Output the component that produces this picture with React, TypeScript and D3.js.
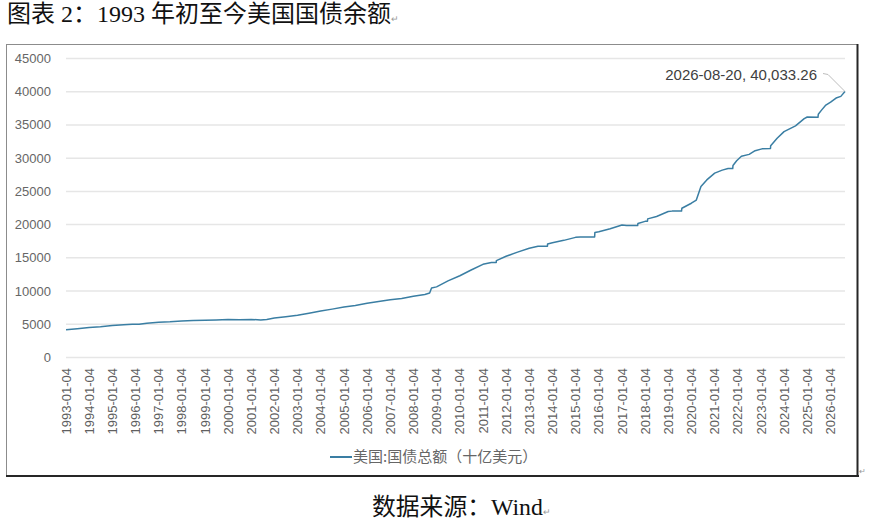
import * as d3 from 'd3'

// 美国国债总额（十亿美元），读自原图
const dates = [
  '1993-01-04', '1993-07-01', '1994-01-03', '1994-07-01', '1995-01-03', '1995-07-03',
  '1995-11-15', '1996-03-01', '1996-07-01', '1997-01-02', '1997-07-01', '1998-01-02',
  '1998-07-01', '1999-01-04', '1999-07-01', '2000-01-03', '2000-07-03', '2001-01-02',
  '2001-06-01', '2001-09-04', '2002-01-02', '2002-07-01', '2003-01-02', '2003-07-01',
  '2004-01-02', '2004-07-01', '2005-01-03', '2005-07-01', '2006-01-03', '2006-07-03',
  '2007-01-02', '2007-07-02', '2008-01-02', '2008-07-01', '2008-09-15', '2008-10-15',
  '2009-01-02', '2009-07-01', '2010-01-04', '2010-07-01', '2011-01-03', '2011-05-16',
  '2011-08-01', '2011-08-03', '2012-01-03', '2012-07-02', '2013-01-02', '2013-05-20',
  '2013-10-16', '2013-10-18', '2014-01-02', '2014-07-01', '2015-01-02', '2015-03-16',
  '2015-10-30', '2015-11-03', '2016-01-04', '2016-07-01', '2017-01-03', '2017-03-16',
  '2017-09-07', '2017-09-11', '2018-01-02', '2018-02-09', '2018-02-12', '2018-07-02',
  '2019-01-02', '2019-03-04', '2019-07-31', '2019-08-05', '2020-01-02', '2020-03-20',
  '2020-06-01', '2020-09-01', '2021-01-04', '2021-05-03', '2021-08-02', '2021-10-15',
  '2021-10-19', '2021-12-16', '2022-03-01', '2022-07-01', '2022-10-03', '2023-01-19',
  '2023-06-02', '2023-06-05', '2023-09-15', '2024-01-02', '2024-07-01', '2024-11-15',
  '2025-01-02', '2025-06-20', '2025-06-25', '2025-08-15', '2025-10-22', '2026-01-05',
  '2026-04-01', '2026-06-15', '2026-08-20'
]
const debt = [
  4170, 4330, 4520, 4630, 4800, 4930,
  4990, 4990, 5160, 5310, 5370, 5500,
  5550, 5610, 5640, 5710, 5690, 5730,
  5630, 5730, 5930, 6130, 6370, 6670,
  7000, 7280, 7590, 7840, 8170, 8420,
  8680, 8870, 9230, 9490, 9700, 10450,
  10630, 11530, 12310, 13170, 14020, 14290,
  14290, 14580, 15230, 15860, 16430, 16740,
  16740, 17080, 17260, 17630, 18080, 18150,
  18150, 18830, 18920, 19380, 19950, 19850,
  19850, 20160, 20490, 20500, 20860, 21220,
  21970, 22030, 22030, 22460, 23220, 23690,
  25740, 26730, 27750, 28200, 28430, 28430,
  28900, 29600, 30290, 30570, 31120, 31400,
  31460, 31860, 33000, 34000, 34850, 35950,
  36200, 36150, 36600, 37230, 38000, 38450,
  39050, 39300, 40033.26
]
const yTicks = [0, 5000, 10000, 15000, 20000, 25000, 30000, 35000, 40000, 45000]
const xTickLabels = [
  '1993-01-04', '1994-01-04', '1995-01-04', '1996-01-04', '1997-01-04', '1998-01-04',
  '1999-01-04', '2000-01-04', '2001-01-04', '2002-01-04', '2003-01-04', '2004-01-04',
  '2005-01-04', '2006-01-04', '2007-01-04', '2008-01-04', '2009-01-04', '2010-01-04',
  '2011-01-04', '2012-01-04', '2013-01-04', '2014-01-04', '2015-01-04', '2016-01-04',
  '2017-01-04', '2018-01-04', '2019-01-04', '2020-01-04', '2021-01-04', '2022-01-04',
  '2023-01-04', '2024-01-04', '2025-01-04', '2026-01-04'
]
const seriesName = '美国:国债总额（十亿美元）'

const parse = d3.timeParse('%Y-%m-%d')
const lineColor = '#3a7ea3'
const axisFont = '"Liberation Sans", Arial, sans-serif'
const cjkSerif = '"Liberation Serif", "Noto Sans CJK SC", serif'

export default function App() {
  const data = dates.map((d, i) => ({ date: parse(d) as Date, value: debt[i] }))
  const last = data[data.length - 1]

  const x = d3.scaleTime()
    .domain([data[0].date, last.date])
    .range([66, 845])
  const y = d3.scaleLinear()
    .domain([0, 45000])
    .range([357.5, 58.5])

  const line = d3.line<{ date: Date; value: number }>()
    .x(d => x(d.date))
    .y(d => y(d.value))

  const lx = x(last.date)
  const ly = y(last.value)
  const label = `${d3.timeFormat('%Y-%m-%d')(last.date)}, ${d3.format(',.2f')(last.value)}`

  return (
    <svg width={870} height={524} style={{ position: 'absolute', left: 0, top: 0, background: '#fff' }}>
      {/* 标题 */}
      <text x={7} y={22} fontFamily={cjkSerif} fontSize={24} fill="#111">
        图表 2：1993 年初至今美国国债余额
        <tspan fontSize={9} fill="#999" fontFamily={axisFont}>↵</tspan>
      </text>

      {/* 外框 */}
      <line x1={7} x2={858} y1={44.5} y2={44.5} stroke="#8c8c8c" strokeWidth={1} />
      <line x1={6.5} x2={6.5} y1={44} y2={477} stroke="#8c8c8c" strokeWidth={1} />
      <line x1={6} x2={859} y1={476} y2={476} stroke="#262626" strokeWidth={2} />
      <line x1={857.5} x2={857.5} y1={44} y2={477} stroke="#262626" strokeWidth={2} />
      <text x={859} y={474} fontSize={8} fill="#999" fontFamily={axisFont}>↵</text>

      {/* 网格线与纵轴 */}
      {yTicks.map(t => (
        <g key={t}>
          <line x1={66} x2={845} y1={y(t)} y2={y(t)} stroke="#e6e6e6" strokeWidth={1.5} />
          <text x={51} y={y(t)} dy="0.35em" textAnchor="end" fontFamily={axisFont} fontSize={13} fill="#666">
            {t}
          </text>
        </g>
      ))}

      {/* 横轴标签 */}
      {xTickLabels.map(s => {
        const px = x(parse(s) as Date)
        return (
          <text key={s} transform={`translate(${px},368) rotate(-90)`} dy="0.35em" textAnchor="end"
            fontFamily={axisFont} fontSize={13} fill="#5f5f5f">
            {s}
          </text>
        )
      })}

      {/* 数据线 */}
      <path d={line(data) ?? ''} fill="none" stroke={lineColor} strokeWidth={1.5} strokeLinejoin="round" />

      {/* 末值标注 */}
      <polyline points={`${823},${73.5} ${828},${74.5} ${lx},${ly}`} fill="none" stroke="#bdbdbd" strokeWidth={1} />
      <text x={817} y={80} textAnchor="end" fontFamily={axisFont} fontSize={15} fill="#404040">
        {label}
      </text>

      {/* 图例 */}
      <line x1={330} x2={352} y1={457} y2={457} stroke={lineColor} strokeWidth={2} />
      <text x={353} y={457} dy="0.35em" fontFamily='"Noto Sans CJK SC", sans-serif' fontSize={15} fill="#666">
        {seriesName}
      </text>

      {/* 数据来源 */}
      <text x={372} y={515} fontFamily={cjkSerif} fontSize={23.8} fill="#111">
        数据来源：Wind
        <tspan fontSize={9} fill="#999" fontFamily={axisFont}>↵</tspan>
      </text>
    </svg>
  )
}
